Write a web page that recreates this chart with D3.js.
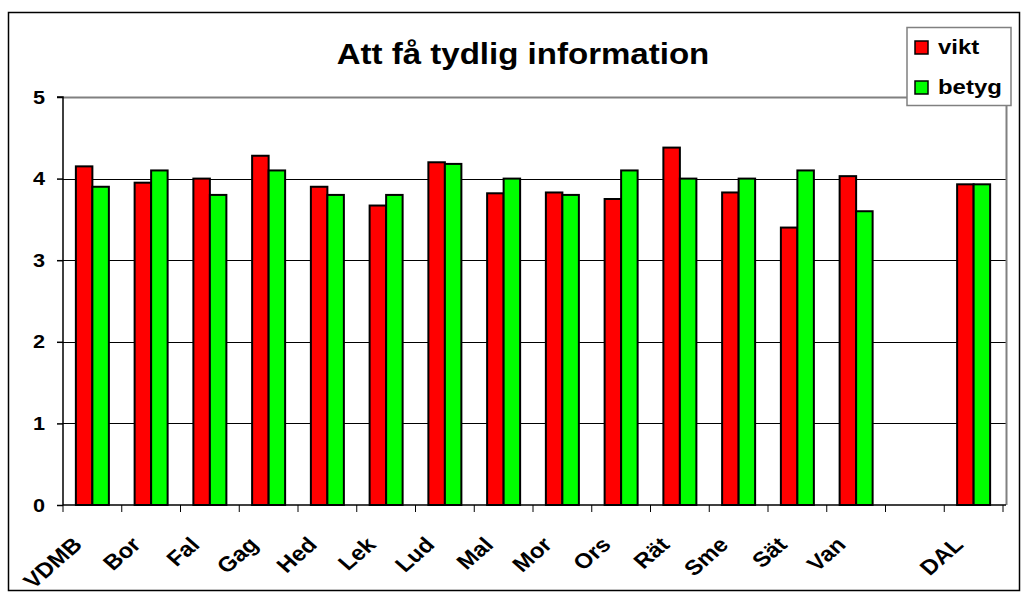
<!DOCTYPE html>
<html>
<head>
<meta charset="utf-8">
<script src="https://cdn.jsdelivr.net/npm/d3@7"></script>
<style>
  body { margin: 0; background: #fff; }
  text { font-family: "Liberation Sans", Arial, sans-serif; font-weight: bold; fill: #000; }
</style>
</head>
<body>
<div id="chart"></div>
<script>
var width = 1021,
	height = 609,
	stretch = 1.14; // the original picture is a little wider than tall

// data
var categories = ["VDMB", "Bor", "Fal", "Gag", "Hed", "Lek", "Lud", "Mal", "Mor", "Ors", "Rät", "Sme", "Sät", "Van", "", "DAL"];
var vikt  = [4.15, 3.95, 4.0, 4.28, 3.9, 3.67, 4.2, 3.82, 3.83, 3.75, 4.38, 3.83, 3.4, 4.03, null, 3.93];
var betyg = [3.9, 4.1, 3.8, 4.1, 3.8, 3.8, 4.18, 4.0, 3.8, 4.1, 4.0, 4.0, 4.1, 3.6, null, 3.93];
var seriesNames = ["vikt", "betyg"];
var seriesColors = ["#ff0000", "#00ff00"];
var yTicks = [0, 1, 2, 3, 4, 5];

var plot = {left: 63, right: 1006, top: 97, bottom: 505};

var svg = d3.select("#chart").append("svg")
	.attr("width", width)
	.attr("height", height);

// outer frame
svg.append("rect")
	.attr("x", 8.5).attr("y", 12.5)
	.attr("width", 1011).attr("height", 578)
	.attr("fill", "#fff")
	.attr("stroke", "#000")
	.attr("stroke-width", 1.5);

var x = d3.scaleBand()
	.domain(d3.range(categories.length))
	.range([plot.left, plot.right - 3]);

var x1 = d3.scaleBand()
	.domain(seriesNames)
	.range([0, x.bandwidth()])
	.paddingInner(0)
	.paddingOuter(0.78);

var y = d3.scaleLinear()
	.domain([0, 5])
	.range([plot.bottom, plot.top]);

// gridlines
svg.append("g")
	.selectAll("line")
	.data(yTicks.filter(function(d) { return d > 0 && d < 5; }))
	.enter().append("line")
	.attr("x1", plot.left).attr("x2", plot.right)
	.attr("y1", function(d) { return Math.round(y(d)) + 0.5; })
	.attr("y2", function(d) { return Math.round(y(d)) + 0.5; })
	.attr("stroke", "#000")
	.attr("stroke-width", 1);

// plot area top/right border (gray)
svg.append("path")
	.attr("d", "M" + plot.left + "," + (y(5) + 0.5) + "H" + (plot.right + 0.5) + "V" + plot.bottom)
	.attr("fill", "none")
	.attr("stroke", "#808080")
	.attr("stroke-width", 2);

// bars
var groups = svg.append("g")
	.selectAll("g")
	.data(categories.map(function(c, i) { return {i: i, values: [vikt[i], betyg[i]]}; }))
	.enter().append("g")
	.attr("transform", function(d) { return "translate(" + x(d.i) + ",0)"; });

groups.selectAll("rect")
	.data(function(d) {
		return d.values.map(function(v, k) { return {name: seriesNames[k], value: v, k: k}; })
			.filter(function(e) { return e.value != null; });
	})
	.enter().append("rect")
	.attr("x", function(d) { return x1(d.name); })
	.attr("y", function(d) { return y(d.value); })
	.attr("width", x1.bandwidth())
	.attr("height", function(d) { return y(0) - y(d.value); })
	.attr("fill", function(d) { return seriesColors[d.k]; })
	.attr("stroke", "#000")
	.attr("stroke-width", 2);

// y axis
var yAxis = svg.append("g")
	.attr("transform", "translate(" + plot.left + ",0)")
	.call(d3.axisLeft(y).tickValues(yTicks).tickSize(6).tickPadding(12).tickFormat(d3.format("d")));
yAxis.selectAll("text")
	.style("font-size", "19px")
	.attr("transform", function() {
		var tx = +d3.select(this).attr("x");
		return "translate(" + tx + ",0) scale(" + stretch + ",1) translate(" + (-tx) + ",0)";
	});
yAxis.selectAll("line, path").attr("stroke", "#000").attr("stroke-width", 1.5);
yAxis.select(".domain").attr("d", "M-6," + y(5) + "H0V" + y(0));

// x axis with ticks between categories
var xAxis = svg.append("g");
xAxis.append("line")
	.attr("x1", plot.left).attr("x2", plot.right)
	.attr("y1", y(0)).attr("y2", y(0))
	.attr("stroke", "#000").attr("stroke-width", 1.5);
xAxis.selectAll(".tick")
	.data(d3.range(categories.length + 1))
	.enter().append("line")
	.attr("x1", function(i) { return i < categories.length ? x(i) : x(i - 1) + x.bandwidth(); })
	.attr("x2", function(i) { return i < categories.length ? x(i) : x(i - 1) + x.bandwidth(); })
	.attr("y1", y(0)).attr("y2", y(0) + 7)
	.attr("stroke", "#000").attr("stroke-width", 1);

xAxis.selectAll("text")
	.data(categories.map(function(c, i) { return {c: c, i: i}; }))
	.enter().append("text")
	.attr("transform", function(d) {
		return "translate(" + (x(d.i) + x.bandwidth() / 2 - 9) + "," + (y(0) + 41) + ") scale(" + stretch + ",1) rotate(-45)";
	})
	.attr("text-anchor", "end")
	.style("font-size", "21px")
	.text(function(d) { return d.c; });

// title
svg.append("text")
	.attr("transform", "translate(523,64) scale(" + stretch + ",1)")
	.attr("text-anchor", "middle")
	.style("font-size", "29px")
	.text("Att få tydlig information");

// legend
var legend = svg.append("g");
legend.append("rect")
	.attr("x", 907).attr("y", 27.5)
	.attr("width", 104).attr("height", 78)
	.attr("fill", "#fff")
	.attr("stroke", "#808080")
	.attr("stroke-width", 1.5);

var items = legend.selectAll("g")
	.data(seriesNames)
	.enter().append("g")
	.attr("transform", function(d, i) { return "translate(915," + (41 + i * 40) + ")"; });
items.append("rect")
	.attr("width", 13).attr("height", 13)
	.attr("fill", function(d, i) { return seriesColors[i]; })
	.attr("stroke", "#000")
	.attr("stroke-width", 1.5);
items.append("text")
	.attr("transform", "translate(23,13) scale(" + stretch + ",1)")
	.style("font-size", "21px")
	.text(function(d) { return d; });
</script>
</body>
</html>
